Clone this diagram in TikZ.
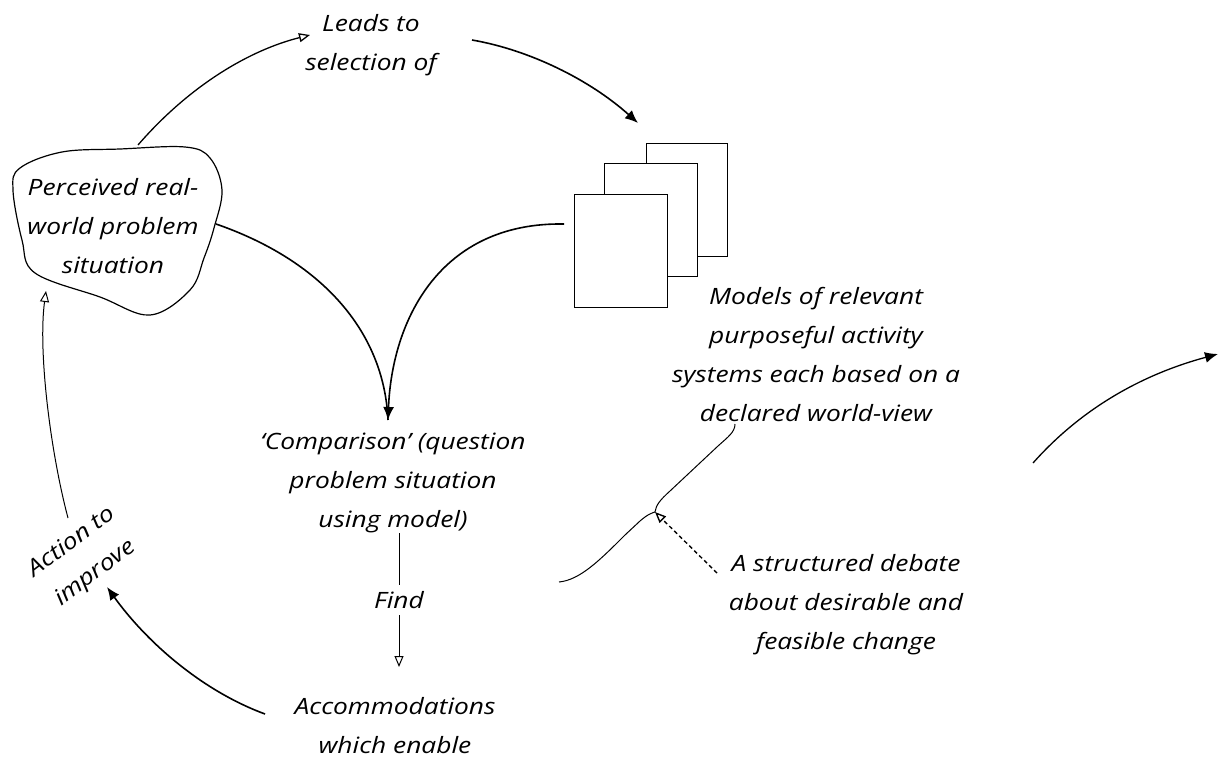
\documentclass[tikz,border=0pt]{standalone}
\usepackage{fontspec}
\setmainfont{Open Sans}[FakeStretch=1.17]
\usetikzlibrary{arrows.meta}

\tikzset{
  txt/.style={align=center, inner sep=0pt,
    font=\fontsize{22.5}{39}\selectfont\itshape},
  flow/.style={line width=1.6pt, -{Latex[length=13pt,width=11pt]}},
  openarrow/.style={line width=1pt, -{Triangle[open,length=11pt,width=9pt]}},
  outline/.style={line width=1.2pt},
  page/.style={draw, line width=1pt, fill=white}
}

\begin{document}
\begin{tikzpicture}[x=1pt,y=-1pt]
  \useasboundingbox (0,0) rectangle (1225,760);

  % the perceived situation, drawn as a cloud-like blob
  \draw[outline] plot[smooth cycle, tension=0.6] coordinates {
    (20,168) (62,152) (120,149) (185,147) (210,158) (222,190)
    (214,228) (204,258) (190,290) (150,315) (100,297) (35,273)
    (22,240) (13,190)};
  \node[txt] (situation) at (113,226) {Perceived real-\\world problem\\situation};

  % stacked model sheets
  \node[page, minimum width=81pt, minimum height=113pt, inner sep=0pt] (sheetC) at (686.5,199.5) {};
  \node[page, minimum width=93pt, minimum height=113pt, inner sep=0pt] (sheetB) at (650.5,219.5) {};
  \node[page, minimum width=93pt, minimum height=113pt, inner sep=0pt] (sheetA) at (620.5,250.5) {};

  % labels
  \node[txt] (leads) at (371,45) {Leads to\\selection of};
  \node[txt] (models) at (816,354) {Models of relevant\\purposeful activity\\systems each based on a\\declared world-view};
  \node[txt] (compare) at (393,483) {‘Comparison’ (question\\problem situation\\using model)};
  \node[txt] (find) at (399,600) {Find};
  \node[txt] (accom) at (395,726) {Accommodations\\which enable};
  \node[txt, rotate=37] (action) at (84,558) {Action to\\improve};
  \node[txt] (debate) at (846,605) {A structured debate\\about desirable and\\feasible change};

  % connector end points
  \coordinate (blobTop) at (138,145);
  \coordinate (leadsIn) at (310,35);
  \coordinate (leadsOut) at (472,40);
  \coordinate (sheetsIn) at (638,123);
  \coordinate (blobRight) at (216,224);
  \coordinate (sheetsLeft) at (564,224);
  \coordinate (compareIn) at (388,420);
  \coordinate (compareOut) at (399,533);
  \coordinate (findTop) at (399,585);
  \coordinate (findBottom) at (399,615);
  \coordinate (accomIn) at (399,667);
  \coordinate (accomOut) at (265,714);
  \coordinate (actionIn) at (107,587);
  \coordinate (actionOut) at (68,518);
  \coordinate (blobBottom) at (46,291);
  \coordinate (braceLow) at (559,582);
  \coordinate (braceTip) at (655,512);
  \coordinate (braceHigh) at (735,424);
  \coordinate (debateOut) at (717,573);
  \coordinate (loopStart) at (1033,463);
  \coordinate (loopEnd) at (1218,354);

  % cycle of connectors
  \draw[openarrow, line width=1.3pt] (blobTop) .. controls (190,85) and (250,50) .. (leadsIn);
  \draw[flow] (leadsOut) .. controls (530,50) and (590,80) .. (sheetsIn);
  \draw[line width=1.6pt] (blobRight) .. controls (320,260) and (384,330) .. (compareIn);
  \draw[flow] (sheetsLeft) .. controls (440,222) and (392,320) .. (compareIn);
  \draw[line width=1pt] (compareOut) -- (findTop);
  \draw[openarrow] (findBottom) -- (accomIn);
  \draw[flow] (accomOut) .. controls (200,690) and (145,640) .. (actionIn);
  \draw[openarrow] (actionOut) .. controls (50,450) and (38,350) .. (blobBottom);

  % debate bracket and its pointer
  \draw[line width=1pt] (braceLow) .. controls (580,580) and (600,560) .. (625,535)
    -- (640,521) .. controls (648,514) and (652,513) .. (braceTip)
    .. controls (656,505) and (660,500) .. (670,491)
    -- (718,446) .. controls (728,437) and (735,432) .. (braceHigh);
  \draw[openarrow, dashed, line width=1.4pt, dash pattern=on 4pt off 3pt] (debateOut) -- (braceTip);

  % continuing arrow
  \draw[flow, line width=1.3pt] (loopStart) .. controls (1080,410) and (1140,375) .. (loopEnd);
\end{tikzpicture}
\end{document}
